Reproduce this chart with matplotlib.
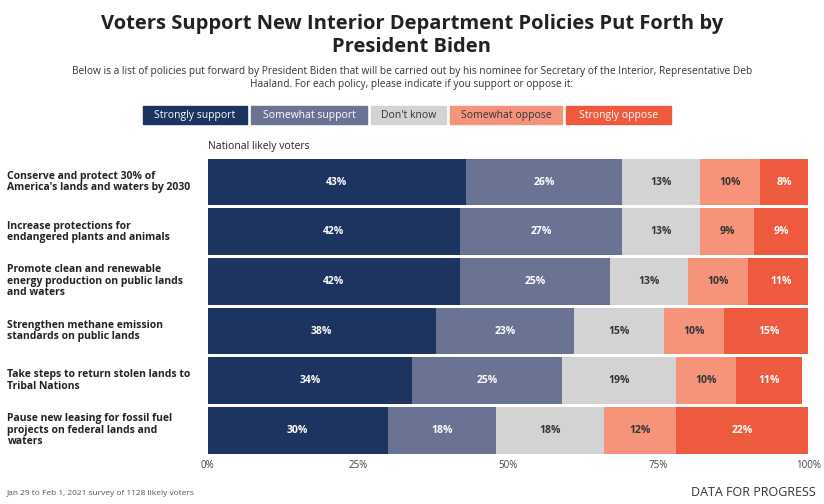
import matplotlib.pyplot as plt
import matplotlib.transforms as mtransforms
import numpy as np

plt.rcParams['font.family'] = ['Open Sans', 'DejaVu Sans']

policies = [
    "Conserve and protect 30% of\nAmerica's lands and waters by 2030",
    "Increase protections for\nendangered plants and animals",
    "Promote clean and renewable\nenergy production on public lands\nand waters",
    "Strengthen methane emission\nstandards on public lands",
    "Take steps to return stolen lands to\nTribal Nations",
    "Pause new leasing for fossil fuel\nprojects on federal lands and\nwaters",
]
categories = ["Strongly support", "Somewhat support", "Don't know",
              "Somewhat oppose", "Strongly oppose"]
strongly_support = [43, 42, 42, 38, 34, 30]
somewhat_support = [26, 27, 25, 23, 25, 18]
dont_know = [13, 13, 13, 15, 19, 18]
somewhat_oppose = [10, 9, 10, 10, 10, 12]
strongly_oppose = [8, 9, 11, 15, 11, 22]

series = [strongly_support, somewhat_support, dont_know, somewhat_oppose, strongly_oppose]
colors = ["#1d3461", "#6a7394", "#d3d3d3", "#f6937b", "#ee5a3e"]
text_colors = ["white", "white", "#333333", "#333333", "white"]

fig = plt.figure(figsize=(8.24, 5.04), dpi=100)
ax = fig.add_axes([0.252, 0.097, 0.729, 0.591])

y = np.arange(len(policies))
left = np.zeros(len(policies))
for vals, col, tc in zip(series, colors, text_colors):
    vals = np.array(vals, dtype=float)
    ax.barh(y, vals, left=left, color=col, height=0.94, edgecolor="none")
    for yi, l, v in zip(y, left, vals):
        ax.text(l + v / 2, yi, f"{int(v)}%", ha="center", va="center",
                color=tc, fontsize=7.5, fontweight="bold")
    left += vals

ax.set_xlim(0, 100)
ax.set_ylim(len(policies) - 0.5, -0.5)
ax.set_yticks([])
trans = mtransforms.blended_transform_factory(fig.transFigure, ax.transData)
for yi, label in zip(y, policies):
    ax.text(0.009, yi, label, transform=trans, fontsize=7.5, fontweight="bold",
            color="#222222", ha="left", va="center", linespacing=1.05)
ax.set_xticks([0, 25, 50, 75, 100])
ax.set_xticklabels(["0%", "25%", "50%", "75%", "100%"], fontsize=7, color="#444444")
ax.tick_params(axis="x", length=0)
for s in ax.spines.values():
    s.set_visible(False)
ax.text(0, -0.6, "National likely voters", fontsize=7.5, color="#222222", va="bottom")

fig.text(0.5, 0.93, "Voters Support New Interior Department Policies Put Forth by\nPresident Biden",
         ha="center", va="center", fontsize=14.5, fontweight="bold", color="#222222",
         linespacing=1.2)
fig.text(0.5, 0.845, "Below is a list of policies put forward by President Biden that will be carried out by his nominee for Secretary of the Interior, Representative Deb\nHaaland. For each policy, please indicate if you support or oppose it:",
         ha="center", va="center", fontsize=7.3, color="#333333")

# legend boxes
leg_x = [143, 251, 371, 450, 566]
leg_w = [104, 116, 75, 112, 105]
for lx, lw, col, tc, cat in zip(leg_x, leg_w, colors, text_colors, categories):
    fig.patches.append(plt.Rectangle((lx / 824, 1 - 124 / 504), lw / 824, 18 / 504,
                                     transform=fig.transFigure, color=col))
    fig.text((lx + lw / 2) / 824, 1 - 115.5 / 504, cat, ha="center", va="center",
             fontsize=7.5, color=tc)

fig.text(0.008, 0.02, "Jan 29 to Feb 1, 2021 survey of 1128 likely voters",
         fontsize=6, color="#555555", va="center")
fig.text(0.99, 0.022, "DATA FOR PROGRESS", fontsize=9, color="#333333",
         ha="right", va="center")

fig.savefig("out.png", dpi=100)
